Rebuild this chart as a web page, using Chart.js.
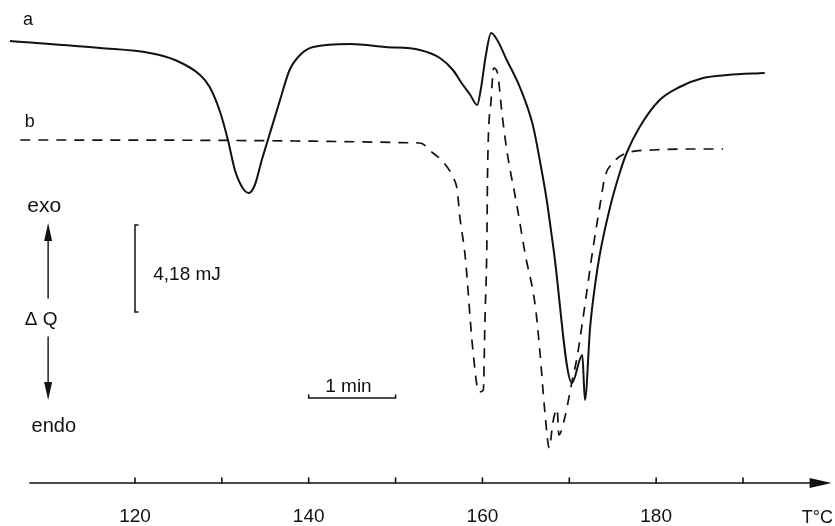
<!DOCTYPE html>
<html>
<head>
<meta charset="utf-8">
<title>DSC curves a / b</title>
<script src="https://cdn.jsdelivr.net/npm/chart.js@4/dist/chart.umd.min.js"></script>
<style>
	html, body { margin: 0; padding: 0; background: #fff; }
	#wrap { width: 835px; height: 526px; position: relative; }
</style>
</head>
<body>
<div id="wrap"><canvas id="dsc"></canvas></div>
<script>
	'use strict';

	// temperature (°C) and signal height (arbitrary units above the baseline)
	const tempA = [105.6, 116.0, 121.7, 124.6, 127.5, 128.6, 129.8, 130.7, 131.5, 132.4, 133.1, 133.8, 134.6, 135.3, 136.7, 137.8, 139.0, 140.5, 144.8, 148.8, 152.8, 155.1, 156.6, 157.6, 158.6, 159.4, 159.8, 160.4, 161.0, 161.7, 162.8, 164.3, 165.8, 166.6, 167.4, 168.2, 170.3, 171.5, 171.8, 172.4, 173.0, 173.5, 174.7, 175.8, 176.6, 178.1, 180.4, 182.7, 185.4, 188.2, 192.5];
	const signalA = [442, 435, 430, 423, 408, 396, 371, 343, 313, 295, 290, 298, 323, 343, 383, 413, 428, 436, 439, 436, 433, 425, 413, 400, 388, 378, 393, 428, 450, 443, 423, 396, 358, 323, 283, 233, 100, 128, 83, 156, 200, 228, 276, 310, 330, 356, 383, 396, 405, 408, 410];

	const tempB = [106.8, 152.8, 154.3, 155.5, 156.6, 157.1, 157.4, 158.0, 158.9, 159.6, 160.1, 160.3, 160.5, 160.6, 161.0, 161.3, 161.7, 162.3, 162.8, 164.0, 164.9, 166.1, 166.6, 167.2, 167.7, 168.1, 168.6, 168.8, 169.5, 170.3, 170.9, 171.6, 172.7, 173.5, 174.1, 175.0, 176.6, 179.6, 183.6, 187.7];
	const signalB = [343, 340, 330, 321, 306, 293, 266, 228, 133, 91, 93, 166, 233, 316, 383, 415, 411, 366, 333, 276, 230, 176, 133, 70, 35, 60, 74, 48, 66, 101, 126, 166, 233, 276, 306, 320, 330, 333, 334, 334];

	const tickTemps = [120, 130, 140, 150, 160, 170, 180, 190];
	const labelTemps = [120, 140, 160, 180];

	const FONT = '"Liberation Sans", Arial, sans-serif';
	const INK = '#111';

	const toPoints = (xs, ys) => xs.map((t, i) => ({ x: t, y: ys[i] }));

	// axis with arrow, tick marks, side labels and the two scale bars
	const dscDecor = {
		id: 'dscDecor',
		afterDraw(chart) {
			const ctx = chart.ctx;
			const x = chart.scales.x;
			const y = chart.scales.y;
			const px = (t) => x.getPixelForValue(t);
			const py = (h) => y.getPixelForValue(h);
			const base = py(0);

			ctx.save();
			ctx.strokeStyle = INK;
			ctx.fillStyle = INK;
			ctx.lineCap = 'round';

			// temperature axis
			const tip = px(200.2);
			ctx.lineWidth = 1.6;
			ctx.beginPath();
			ctx.moveTo(px(107.9), base);
			ctx.lineTo(tip - 18, base);
			ctx.stroke();
			ctx.beginPath();
			ctx.moveTo(tip, base);
			ctx.lineTo(tip - 22, base - 5);
			ctx.lineTo(tip - 22, base + 5);
			ctx.closePath();
			ctx.fill();

			tickTemps.forEach((t) => {
				ctx.beginPath();
				ctx.moveTo(px(t), base);
				ctx.lineTo(px(t), base - 5);
				ctx.stroke();
			});

			// exo / endo arrows
			const ax = px(110.0);
			ctx.lineWidth = 1.4;
			ctx.beginPath();
			ctx.moveTo(ax, py(245));
			ctx.lineTo(ax, py(185));
			ctx.moveTo(ax, py(146));
			ctx.lineTo(ax, py(100));
			ctx.stroke();
			ctx.beginPath();
			ctx.moveTo(ax, py(260));
			ctx.lineTo(ax - 4, py(242));
			ctx.lineTo(ax + 4, py(242));
			ctx.closePath();
			ctx.fill();
			ctx.beginPath();
			ctx.moveTo(ax, py(83));
			ctx.lineTo(ax - 4, py(101));
			ctx.lineTo(ax + 4, py(101));
			ctx.closePath();
			ctx.fill();

			// 4,18 mJ bracket
			const bx = px(120);
			ctx.lineWidth = 1.5;
			ctx.beginPath();
			ctx.moveTo(bx + 3, py(258));
			ctx.lineTo(bx, py(258));
			ctx.lineTo(bx, py(171));
			ctx.lineTo(bx + 3, py(171));
			ctx.stroke();

			// 1 min bar (10 K at 10 K/min)
			ctx.beginPath();
			ctx.moveTo(px(140), py(88));
			ctx.lineTo(px(140), py(85));
			ctx.lineTo(px(150), py(85));
			ctx.lineTo(px(150), py(88));
			ctx.stroke();

			ctx.textBaseline = 'alphabetic';
			ctx.textAlign = 'left';
			const text = (s, t, h, size) => {
				ctx.font = size + 'px ' + FONT;
				ctx.fillText(s, px(t), py(h));
			};
			text('a', 107.1, 458, 18);
			text('b', 107.3, 356, 18);
			text('exo', 107.6, 271, 21);
			text('Δ Q', 107.3, 158, 19);
			text('endo', 108.1, 51, 20);
			text('4,18 mJ', 122.1, 203, 19);
			text('1 min', 141.9, 91, 19);

			ctx.textAlign = 'right';
			ctx.font = '18px ' + FONT;
			ctx.fillText('T°C', 833, 523);
			ctx.restore();
		},
	};

	new Chart(document.getElementById('dsc'), {
		type: 'line',
		data: {
			datasets: [
				{
					label: 'a',
					data: toPoints(tempA, signalA),
					borderColor: INK,
					borderWidth: 2,
					pointRadius: 0,
					fill: false,
					cubicInterpolationMode: 'monotone',
					clip: false,
				},
				{
					label: 'b',
					data: toPoints(tempB, signalB),
					borderColor: INK,
					borderWidth: 1.7,
					borderDash: [10, 8],
					pointRadius: 0,
					fill: false,
					cubicInterpolationMode: 'monotone',
					clip: false,
				},
			],
		},
		options: {
			responsive: true,
			maintainAspectRatio: false,
			devicePixelRatio: 1,
			animation: false,
			layout: { padding: 0 },
			plugins: {
				legend: { display: false },
				tooltip: { enabled: false },
			},
			scales: {
				x: {
					type: 'linear',
					min: 104.46,
					max: 200.59,
					afterBuildTicks: (scale) => {
						scale.ticks = tickTemps.map((v) => ({ value: v }));
					},
					afterFit: (scale) => {
						scale.height = 43;
					},
					grid: { display: false, drawTicks: false },
					border: { display: false },
					ticks: {
						autoSkip: false,
						maxRotation: 0,
						padding: 22,
						color: INK,
						font: { family: FONT, size: 19 },
						callback: (v) => (labelTemps.includes(v) ? String(v) : ''),
					},
				},
				y: {
					display: false,
					min: 0,
					max: 483,
				},
			},
		},
		plugins: [dscDecor],
	});
</script>
</body>
</html>
